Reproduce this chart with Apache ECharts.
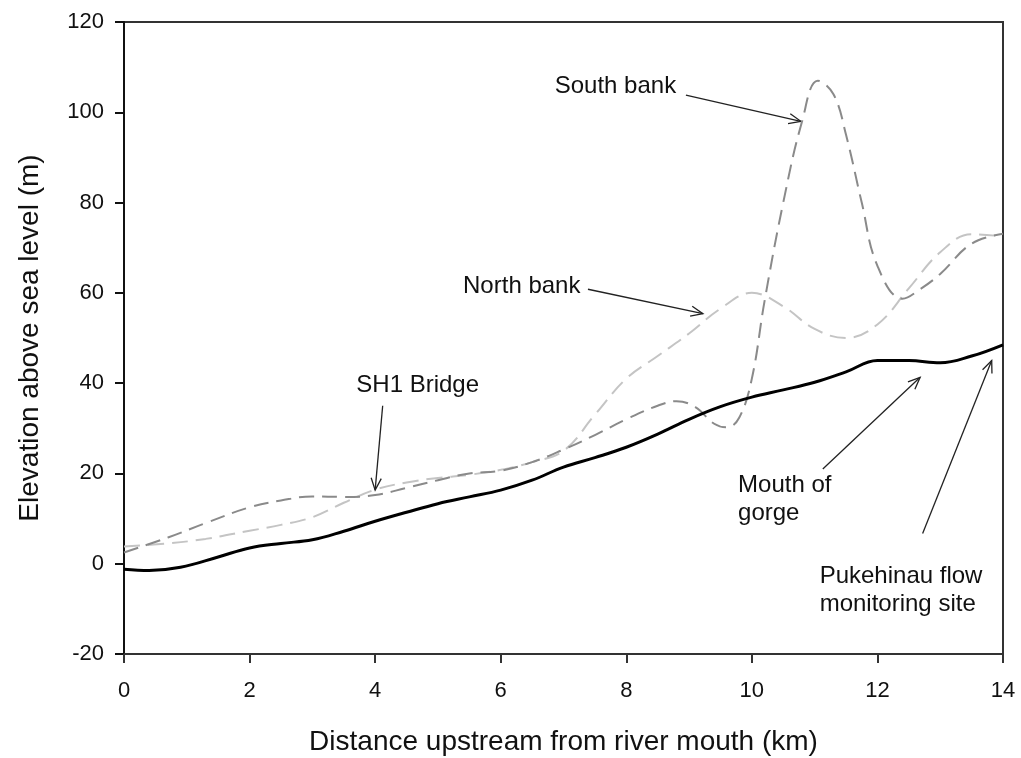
<!DOCTYPE html>
<html style="height: 100%">
<head>
    <meta charset="utf-8">
</head>
<body style="height: 100%; margin: 0; background: #fff">
<div id="container" style="width: 1021px; height: 758px"></div>
<script type="text/javascript" src="https://cdn.jsdelivr.net/npm/echarts@6/dist/echarts.min.js"></script>
<script type="text/javascript">
// distance upstream (km) and elevation (m)
var bedX = [0, 0.4, 0.9, 1.5, 2, 2.5, 3, 3.5, 4, 4.5, 5, 5.5, 6, 6.5, 7, 7.5, 8, 8.5, 9, 9.5, 10, 10.5, 11, 11.5, 12, 12.5, 13, 13.5, 14];
var bedY = [-1.2, -1.5, -0.8, 1.5, 3.5, 4.5, 5.3, 7.2, 9.4, 11.4, 13.3, 14.8, 16.3, 18.5, 21.4, 23.5, 25.8, 28.7, 32, 34.8, 36.9, 38.5, 40.2, 42.5, 45, 45, 44.5, 46, 48.5];

var northX = [0, 0.7, 1.3, 2, 2.5, 3, 3.5, 4, 4.5, 5, 5.5, 6, 6.5, 7, 7.5, 8, 8.5, 9, 9.5, 10, 10.5, 11, 11.5, 12, 12.5, 13, 13.5, 14];
var northY = [3.8, 4.5, 5.5, 7.3, 8.6, 10.3, 13.5, 16.4, 18, 19, 19.7, 20.8, 22.5, 25, 33, 41, 46, 51, 56.5, 60, 57, 52, 50, 53, 61, 69, 73, 72.5];

var southX = [0, 0.7, 1.3, 2, 2.5, 3, 3.5, 4, 4.5, 5, 5.5, 6, 6.5, 7, 7.5, 8, 8.5, 8.8, 9.1, 9.4, 9.6, 9.8, 10, 10.2, 10.5, 10.8, 11.05, 11.3, 11.5, 11.75, 12, 12.4, 12.7, 13, 13.5, 14];
var southY = [2.5, 5.8, 9, 12.5, 14, 14.9, 14.8, 15.2, 16.8, 18.5, 20, 20.6, 22.5, 25.3, 28.5, 32, 35, 36, 34.7, 31, 30.2, 32.4, 41, 58, 80, 98, 107, 104, 95, 80, 66, 58.7, 61, 64.2, 70.9, 73.1];

// annotations: text anchor [x, y], arrow from -> to (data units)
var notes = [
    {text: 'South bank', at: [6.86, 105.8], from: [8.95, 103.8], to: [10.78, 98]},
    {text: 'North bank', at: [5.4, 61.5], from: [7.39, 60.8], to: [9.22, 55.4]},
    {text: 'SH1 Bridge', at: [3.7, 39.5], from: [4.12, 35], to: [4.0, 16.3]},
    {text: 'Mouth of\ngorge', at: [9.78, 14.2], from: [11.13, 21], to: [12.68, 41.3]},
    {text: 'Pukehinau flow\nmonitoring site', at: [11.08, -5.8], from: [12.72, 6.7], to: [13.82, 45]}
];

function pairs(xs, ys) {
    return xs.map(function (x, i) { return [x, ys[i]]; });
}

var font = 'Arial, "Liberation Sans", sans-serif';
var dom = document.getElementById('container');
var myChart = echarts.init(dom);

var option = {
    animation: false,
    backgroundColor: '#fff',
    grid: {
        left: 124, right: 18, top: 22, bottom: 104,
        outerBoundsMode: 'none',
        show: true, borderColor: '#333', borderWidth: 2
    },
    xAxis: {
        type: 'value', min: 0, max: 14, interval: 2,
        name: 'Distance upstream from river mouth (km)',
        nameLocation: 'middle', nameGap: 74,
        nameTextStyle: {fontFamily: font, fontSize: 28, color: '#111'},
        axisLine: {onZero: false, lineStyle: {color: '#333', width: 2}},
        axisTick: {inside: false, length: 9, lineStyle: {color: '#333', width: 2}},
        axisLabel: {fontFamily: font, fontSize: 22, color: '#111', margin: 26},
        splitLine: {show: false}
    },
    yAxis: {
        type: 'value', min: -20, max: 120, interval: 20,
        name: 'Elevation above sea level (m)',
        nameLocation: 'middle', nameGap: 80,
        nameTextStyle: {fontFamily: font, fontSize: 28, color: '#111'},
        axisLine: {onZero: false, lineStyle: {color: '#111', width: 2}},
        axisTick: {inside: false, length: 9, lineStyle: {color: '#111', width: 2}},
        axisLabel: {fontFamily: font, fontSize: 22, color: '#111', margin: 20},
        splitLine: {show: false}
    },
    series: [
        {
            name: 'North bank', type: 'line', data: pairs(northX, northY),
            smooth: 0.4, showSymbol: false,
            lineStyle: {color: '#c4c4c4', width: 2, type: [16, 8]}
        },
        {
            name: 'South bank', type: 'line', data: pairs(southX, southY),
            smooth: 0.4, showSymbol: false,
            lineStyle: {color: '#8a8a8a', width: 2, type: [15, 8]}
        },
        {
            name: 'Bed', type: 'line', data: pairs(bedX, bedY),
            smooth: 0.4, showSymbol: false,
            lineStyle: {color: '#000', width: 3}
        }
    ]
};
myChart.setOption(option);

// place the annotation text and arrows from data coordinates
var graphics = [];
notes.forEach(function (n) {
    var p = myChart.convertToPixel({gridIndex: 0}, n.at);
    var a = myChart.convertToPixel({gridIndex: 0}, n.from);
    var b = myChart.convertToPixel({gridIndex: 0}, n.to);
    graphics.push({
        type: 'text', x: p[0], y: p[1],
        style: {text: n.text, font: '24px ' + font, fill: '#111', textVerticalAlign: 'middle', lineHeight: 28}
    });
    graphics.push({
        type: 'line', shape: {x1: a[0], y1: a[1], x2: b[0], y2: b[1]},
        style: {stroke: '#222', lineWidth: 1.3}
    });
    var ang = Math.atan2(b[1] - a[1], b[0] - a[0]);
    var len = 13, spread = 0.4;
    graphics.push({
        type: 'polyline',
        shape: {points: [
            [b[0] - len * Math.cos(ang - spread), b[1] - len * Math.sin(ang - spread)],
            [b[0], b[1]],
            [b[0] - len * Math.cos(ang + spread), b[1] - len * Math.sin(ang + spread)]
        ]},
        style: {stroke: '#222', lineWidth: 1.3, fill: null}
    });
});
myChart.setOption({graphic: graphics});
</script>
</body>
</html>
